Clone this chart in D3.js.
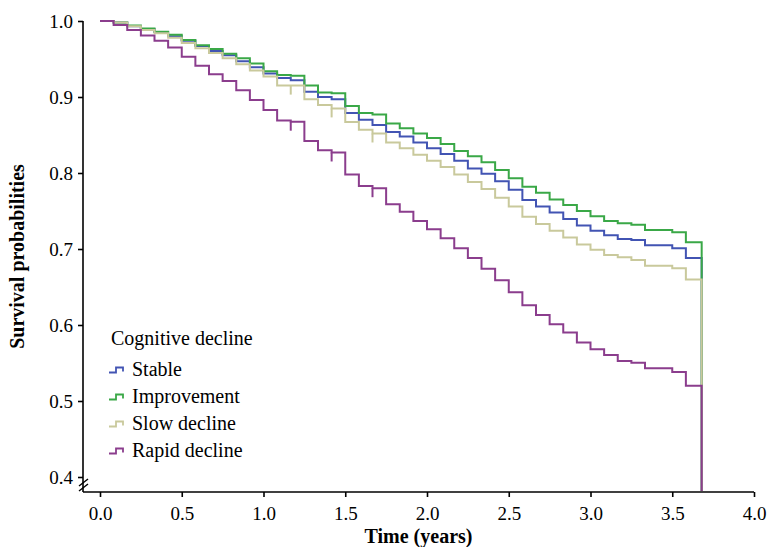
<!DOCTYPE html>
<html>
<head>
<meta charset="utf-8">
<script src="https://cdn.jsdelivr.net/npm/d3@7"></script>
<style>
  body { margin: 0; background: #fff; }
  text { font-family: "Liberation Serif", "Times New Roman", serif; fill: #000; }
</style>
</head>
<body>
<script>
// months since baseline (steps of the curves), last time of follow-up in years
var months = [0, 1, 2, 3, 4, 5, 6, 7, 8, 9, 10, 11, 12, 13, 14, 15, 16, 17, 18, 19, 20, 21,
  22, 23, 24, 25, 26, 27, 28, 29, 30, 31, 32, 33, 34, 35, 36, 37, 38, 39, 40, 41, 42, 43];
var lastTime = 3.68;

var stable = [1.0, 0.998, 0.993, 0.9895, 0.9855, 0.980, 0.974, 0.967, 0.9605, 0.955, 0.947, 0.939,
  0.931, 0.925, 0.922, 0.907, 0.900, 0.897, 0.879, 0.870, 0.863, 0.854, 0.848, 0.840,
  0.8325, 0.825, 0.816, 0.806, 0.799, 0.789, 0.778, 0.7645, 0.756, 0.748, 0.7395, 0.731,
  0.724, 0.718, 0.713, 0.712, 0.705, 0.705, 0.701, 0.688];
var improvement = [1.0, 0.998, 0.994, 0.990, 0.986, 0.982, 0.975, 0.968, 0.963, 0.957, 0.951, 0.944,
  0.934, 0.929, 0.928, 0.915, 0.906, 0.905, 0.888, 0.879, 0.877, 0.865, 0.859, 0.852,
  0.846, 0.838, 0.829, 0.822, 0.814, 0.804, 0.793, 0.782, 0.774, 0.765, 0.758, 0.750,
  0.743, 0.737, 0.734, 0.732, 0.725, 0.725, 0.722, 0.709];
var slowDecline = [1.0, 0.998, 0.993, 0.988, 0.984, 0.978, 0.971, 0.964, 0.958, 0.951, 0.943, 0.935,
  0.927, 0.915, 0.915, 0.897, 0.8895, 0.885, 0.867, 0.857, 0.852, 0.840, 0.8325, 0.824,
  0.816, 0.808, 0.798, 0.788, 0.779, 0.7675, 0.756, 0.7425, 0.733, 0.724, 0.715, 0.706,
  0.699, 0.692, 0.689, 0.6855, 0.678, 0.678, 0.6746, 0.660];
var rapidDecline = [1.0, 0.9947, 0.988, 0.981, 0.974, 0.965, 0.953, 0.941, 0.930, 0.921, 0.909, 0.896,
  0.883, 0.869, 0.8675, 0.842, 0.830, 0.827, 0.798, 0.783, 0.780, 0.759, 0.749, 0.737,
  0.726, 0.714, 0.701, 0.688, 0.674, 0.659, 0.643, 0.626, 0.613, 0.601, 0.590, 0.577,
  0.568, 0.5605, 0.5526, 0.5504, 0.543, 0.543, 0.538, 0.520];

// censored marks (month index)
var censorSlow = [14, 17, 20];
var censorRapid = [14, 17, 20];

var groups = ["Stable", "Improvement", "Slow decline", "Rapid decline"];
var colors = ["#4254b3", "#3aa847", "#c9c99c", "#8b3d8d"];
var xTicks = [0, 0.5, 1, 1.5, 2, 2.5, 3, 3.5, 4];
var yTicks = [0.4, 0.5, 0.6, 0.7, 0.8, 0.9, 1.0];

var series = [
  { name: groups[0], values: stable, color: colors[0], censor: [] },
  { name: groups[1], values: improvement, color: colors[1], censor: [] },
  { name: groups[2], values: slowDecline, color: colors[2], censor: censorSlow },
  { name: groups[3], values: rapidDecline, color: colors[3], censor: censorRapid }
];

var svgWidth = 769;
var svgHeight = 547;
var axisLeftX = 83;
var axisBottomY = 492;

var svg = d3.select("body")
  .append("svg")
  .attr("width", svgWidth)
  .attr("height", svgHeight);

var x = d3.scaleLinear().domain([0, 4]).range([100, 754]);
var y = d3.scaleLinear().domain([0.4, 1.0]).range([477, 21]);

svg.append("clipPath")
  .attr("id", "plot")
  .append("rect")
  .attr("x", axisLeftX)
  .attr("y", 0)
  .attr("width", 754 - axisLeftX)
  .attr("height", axisBottomY - 1);

// survival curves
var line = d3.line()
  .x(d => x(d[0]))
  .y(d => y(d[1]))
  .curve(d3.curveStepAfter);

var curves = svg.append("g").attr("clip-path", "url(#plot)");

series.forEach(function (s) {
  var pts = months.map((m, i) => [m / 12, s.values[i]]);
  var last = s.values[s.values.length - 1];
  pts.push([lastTime, last]);
  pts.push([lastTime, 0]);
  curves.append("path")
    .attr("d", line(pts))
    .attr("fill", "none")
    .attr("stroke", s.color)
    .attr("stroke-width", 2);

  curves.selectAll(null)
    .data(s.censor)
    .enter().append("line")
    .attr("x1", m => x(m / 12))
    .attr("x2", m => x(m / 12))
    .attr("y1", m => y(s.values[m]))
    .attr("y2", m => y(s.values[m]) + 9)
    .attr("stroke", s.color)
    .attr("stroke-width", 2);
});

// x axis
var xAxis = svg.append("g")
  .attr("transform", `translate(0, ${axisBottomY})`)
  .call(d3.axisBottom(x).tickValues(xTicks).tickFormat(d3.format(".1f")).tickSize(5).tickSizeOuter(0));
xAxis.select(".domain").attr("d", `M${axisLeftX},0H754`);

// y axis
var yAxis = svg.append("g")
  .attr("transform", `translate(${axisLeftX}, 0)`)
  .call(d3.axisLeft(y).tickValues(yTicks).tickFormat(d3.format(".1f")).tickSize(5).tickSizeOuter(0));
yAxis.select(".domain").attr("d", `M0,21V${axisBottomY}`);

svg.selectAll(".domain, .tick line")
  .attr("stroke", "#000")
  .attr("stroke-width", 1.6);
svg.selectAll(".tick text")
  .attr("font-size", 19)
  .attr("font-family", "Liberation Serif, Times New Roman, serif");
xAxis.selectAll(".tick text").attr("dy", "1.05em");
yAxis.selectAll(".tick text").attr("x", -10);

// axis break on y
var brk = svg.append("g").attr("stroke", "#000").attr("stroke-width", 1.4);
brk.append("line").attr("x1", 79).attr("y1", 486).attr("x2", 88).attr("y2", 479);
brk.append("line").attr("x1", 79).attr("y1", 491).attr("x2", 88).attr("y2", 484);

// axis titles
svg.append("text")
  .attr("x", 418.5)
  .attr("y", 543)
  .attr("text-anchor", "middle")
  .attr("font-size", 20)
  .attr("font-weight", "bold")
  .text("Time (years)");

svg.append("text")
  .attr("transform", "translate(24, 256.5) rotate(-90)")
  .attr("text-anchor", "middle")
  .attr("font-size", 20)
  .attr("font-weight", "bold")
  .text("Survival probabilities");

// legend
var legend = svg.append("g");
legend.append("text")
  .attr("x", 111)
  .attr("y", 345)
  .attr("font-size", 20)
  .text("Cognitive decline");

var items = legend.selectAll("g.item")
  .data(series)
  .enter().append("g")
  .attr("class", "item")
  .attr("transform", (d, i) => `translate(0, ${375.5 + i * 27})`);

items.append("path")
  .attr("d", "M109,-3H116V-8H123V-4")
  .attr("fill", "none")
  .attr("stroke", d => d.color)
  .attr("stroke-width", 1.8);

items.append("text")
  .attr("x", 132)
  .attr("y", 0)
  .attr("font-size", 20)
  .text(d => d.name);
</script>
</body>
</html>
